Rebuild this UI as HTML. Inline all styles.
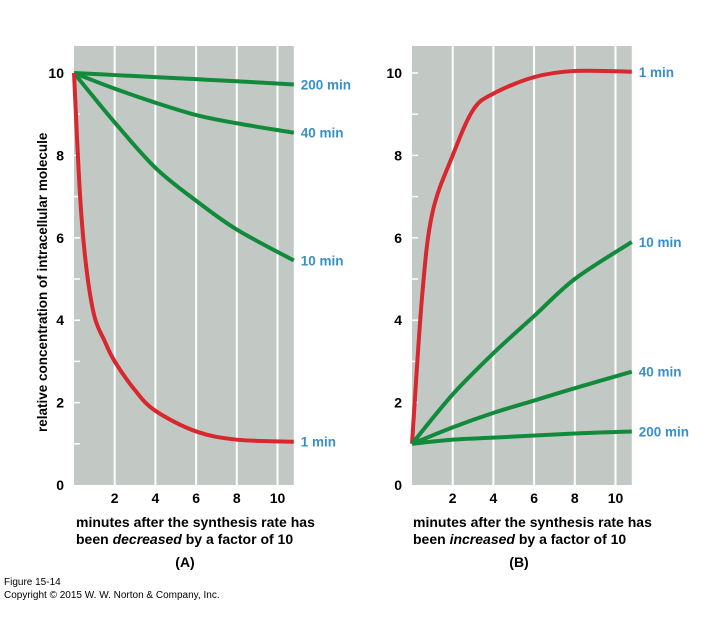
<!DOCTYPE html>
<html><head><meta charset="utf-8"><style>
body{margin:0;background:#fff;width:714px;height:617px;overflow:hidden;font-family:"Liberation Sans",sans-serif}
</style></head><body>
<svg id="c" width="714" height="617" xmlns="http://www.w3.org/2000/svg" font-family="Liberation Sans, sans-serif"></svg>
<script>
const xTicks=[2,4,6,8,10];
const yTicks=[0,2,4,6,8,10];
const tA=[0,0.3,0.6,1,1.5,2,3,4,6,8,10.8];
const aRed=[10,7.0,5.3,4.1,3.5,3.0,2.3,1.8,1.3,1.1,1.05];
const tG=[0,2,4,6,8,10.8];
const a10=[10,8.8,7.7,6.9,6.2,5.45];
const a40=[10,9.62,9.28,8.98,8.78,8.55];
const a200=[10,9.95,9.9,9.85,9.8,9.72];
const tB=[0,0.5,1,2,3,4,6,8,10.8];
const bRed=[1,4.6,6.6,8.0,9.1,9.5,9.9,10.05,10.03];
const b10=[1,2.2,3.2,4.1,5.0,5.9];
const b40=[1,1.4,1.75,2.05,2.35,2.75];
const b200=[1,1.1,1.15,1.2,1.25,1.3];
const labelsA=["200 min","40 min","10 min","1 min"];
const labelsB=["1 min","10 min","40 min","200 min"];
const NS="http://www.w3.org/2000/svg";
const svg=document.getElementById('c');
function el(t,a,p){const e=document.createElementNS(NS,t);for(const k in a)e.setAttribute(k,a[k]);(p||svg).appendChild(e);return e;}
function smooth(pts){let d=`M${pts[0][0]},${pts[0][1]}`;for(let i=0;i<pts.length-1;i++){const p0=pts[Math.max(0,i-1)],p1=pts[i],p2=pts[i+1],p3=pts[Math.min(pts.length-1,i+2)];d+=` C${p1[0]+(p2[0]-p0[0])/6},${p1[1]+(p2[1]-p0[1])/6} ${p2[0]-(p3[0]-p1[0])/6},${p2[1]-(p3[1]-p1[1])/6} ${p2[0]},${p2[1]}`;}return d;}
function panel(name,x0,top,series,labels){
  const xs=t=>x0+t*20.35, ys=v=>485-v*41.2;
  const g=el('g',{});
  const bg=el('rect',{x:x0,y:top,width:xs(10.8)-x0,height:485-top,fill:'#c2c9c4'},g);
  
  xTicks.forEach(t=>{const l=el('line',{x1:xs(t),x2:xs(t),y1:top,y2:485,stroke:'#fff','stroke-width':2},g);
    const tx=el('text',{x:xs(t),y:503,'font-size':14,'font-weight':'bold','text-anchor':'middle'},g);tx.textContent=t;});
  for(let v=1;v<=10;v++){const l=el('line',{x1:x0,x2:x0+6,y1:ys(v),y2:ys(v),stroke:'#fff','stroke-width':1.5},g);}
  yTicks.forEach(v=>{const tx=el('text',{x:x0-10,y:ys(v)+5,'font-size':14,'font-weight':'bold','text-anchor':'end'},g);tx.textContent=v;});
  series.forEach((s,i)=>{const pts=s.t.map((t,j)=>[xs(t),ys(s.v[j])]);
    const p=el('path',{d:smooth(pts),fill:'none',stroke:s.c,'stroke-width':4,'stroke-linejoin':'round'},g);
    const tx=el('text',{x:xs(10.8)+7,y:ys(s.v[s.v.length-1])+5,'font-size':13.5,'font-weight':'bold',fill:'#3a8fc9'},g);tx.textContent=s.n;});
}
const R='#d6282e',G='#128a3c';
panel('panel-a',74,46,[{t:tG,v:a200,c:G,n:labelsA[0]},{t:tG,v:a40,c:G,n:labelsA[1]},{t:tG,v:a10,c:G,n:labelsA[2]},{t:tA,v:aRed,c:R,n:labelsA[3]}],labelsA);
panel('panel-b',412,46,[{t:tB,v:bRed,c:R,n:labelsB[0]},{t:tG,v:b10,c:G,n:labelsB[1]},{t:tG,v:b40,c:G,n:labelsB[2]},{t:tG,v:b200,c:G,n:labelsB[3]}],labelsB);
function txt(x,y,s,a,name){const t=el('text',Object.assign({x,y,'font-size':14,'font-weight':'bold'},a||{}));t.innerHTML=s;return t;}
txt(0,0,'relative concentration of intracellular molecule',{transform:'translate(47,432) rotate(-90)','font-size':13.5},'y-axis-title');
txt(76,527,'minutes after the synthesis rate has',{},'x-axis-title-a');
txt(76,544,'been <tspan font-style="italic">decreased</tspan> by a factor of 10',{},'x-axis-title-a2');
txt(185,567,'(A)',{'text-anchor':'middle'},'panel-a-label');
txt(413,527,'minutes after the synthesis rate has',{},'x-axis-title-b');
txt(413,544,'been <tspan font-style="italic">increased</tspan> by a factor of 10',{},'x-axis-title-b2');
txt(519,567,'(B)',{'text-anchor':'middle'},'panel-b-label');
txt(4,585,'Figure 15-14',{'font-size':10,'font-weight':'normal'},'figure-number');
txt(4,598,'Copyright © 2015 W. W. Norton &amp; Company, Inc.',{'font-size':10,'font-weight':'normal'},'copyright');
</script>
</body></html>
